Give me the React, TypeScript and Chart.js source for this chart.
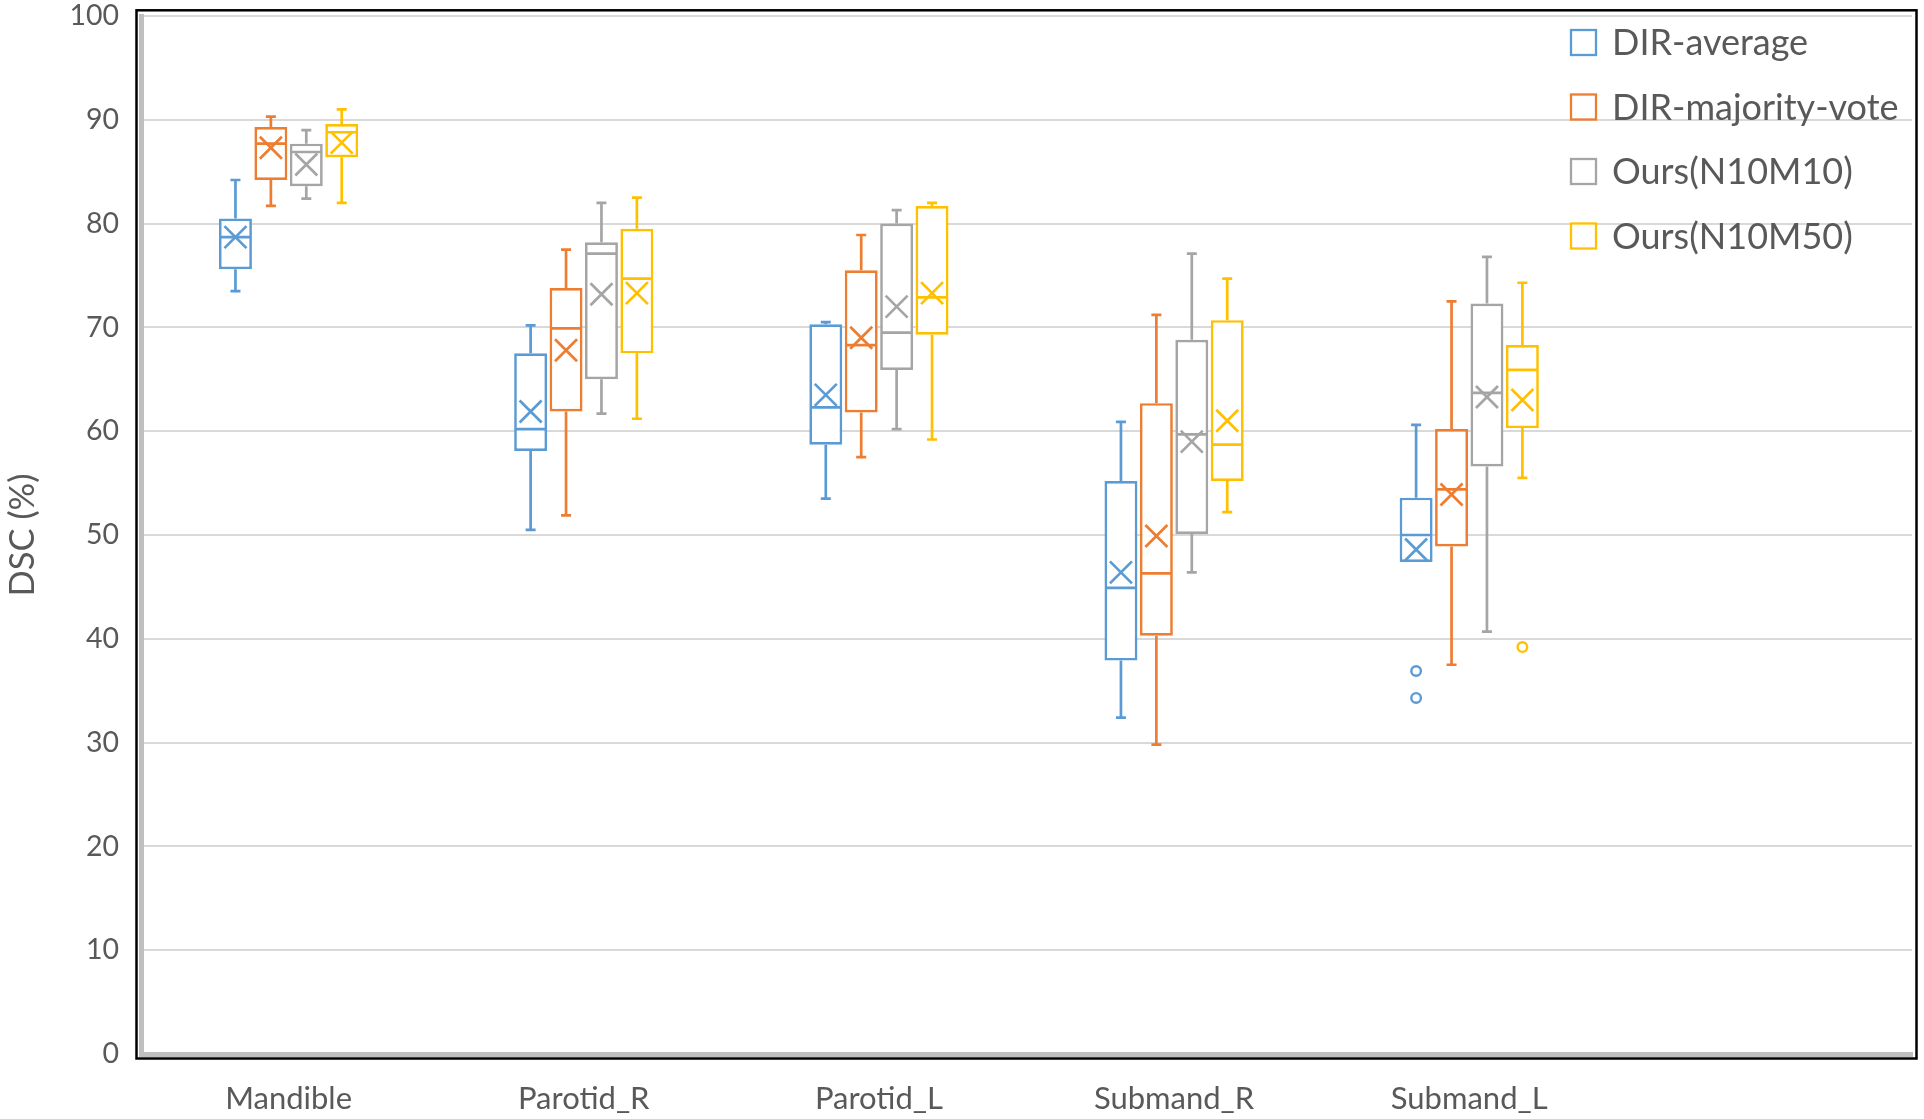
import React, { useEffect, useRef } from 'react';
import { Chart, registerables } from 'chart.js';

Chart.register(...registerables);

// ---------- data ----------
const categories = ['Mandible', 'Parotid_R', 'Parotid_L', 'Submand_R', 'Submand_L'];
const axisSlots = [...categories, '']; // empty trailing slot as in the original
const seriesNames = ['DIR-average', 'DIR-majority-vote', 'Ours(N10M10)', 'Ours(N10M50)'];
const seriesColors = ['#5B9BD5', '#ED7D31', '#A5A5A5', '#FFC000'];
const yMin = 0;
const yMax = 100;
const yStep = 10;
const yTitle = 'DSC (%)';

// DIR-average
const avgMin = [73.5, 50.5, 53.5, 32.4, 47.4];
const avgQ1 = [75.6, 58.1, 58.7, 37.9, 47.4];
const avgMedian = [78.7, 60.2, 62.3, 44.9, 50.0];
const avgQ3 = [80.5, 67.5, 70.3, 55.2, 53.6];
const avgMax = [84.2, 70.2, 70.5, 60.9, 60.6];
const avgMean = [78.7, 61.9, 63.5, 46.4, 48.6];
const avgOutliers = [[], [], [], [], [36.9, 34.3]];

// DIR-majority-vote
const mvMin = [81.7, 51.9, 57.5, 29.8, 37.5];
const mvQ1 = [84.2, 61.9, 61.8, 40.3, 48.9];
const mvMedian = [87.7, 69.9, 68.3, 46.3, 54.4];
const mvQ3 = [89.3, 73.8, 75.5, 62.7, 60.2];
const mvMax = [90.3, 77.5, 78.9, 71.2, 72.5];
const mvMean = [87.3, 67.8, 69.0, 49.9, 53.9];
const mvOutliers = [[], [], [], [], []];

// Ours(N10M10)
const m10Min = [82.4, 61.7, 60.2, 46.4, 40.7];
const m10Q1 = [83.6, 65.0, 65.9, 50.1, 56.6];
const m10Median = [86.9, 77.1, 69.5, 59.7, 63.7];
const m10Q3 = [87.7, 78.2, 80.0, 68.8, 72.3];
const m10Max = [89.0, 82.0, 81.3, 77.1, 76.8];
const m10Mean = [85.7, 73.2, 72.0, 59.0, 63.3];
const m10Outliers = [[], [], [], [], []];

// Ours(N10M50)
const m50Min = [82.0, 61.2, 59.2, 52.2, 55.5];
const m50Q1 = [86.4, 67.5, 69.3, 55.2, 60.3];
const m50Median = [88.8, 74.7, 72.9, 58.7, 65.9];
const m50Q3 = [89.6, 79.5, 81.7, 70.7, 68.3];
const m50Max = [91.0, 82.5, 82.0, 74.7, 74.3];
const m50Mean = [87.8, 73.3, 73.3, 61.0, 63.0];
const m50Outliers = [[], [], [], [], [39.2]];

const seriesStats = [
  { min: avgMin, q1: avgQ1, median: avgMedian, q3: avgQ3, max: avgMax, mean: avgMean, outliers: avgOutliers },
  { min: mvMin, q1: mvQ1, median: mvMedian, q3: mvQ3, max: mvMax, mean: mvMean, outliers: mvOutliers },
  { min: m10Min, q1: m10Q1, median: m10Median, q3: m10Q3, max: m10Max, mean: m10Mean, outliers: m10Outliers },
  { min: m50Min, q1: m50Q1, median: m50Median, q3: m50Q3, max: m50Max, mean: m50Mean, outliers: m50Outliers },
];

// ---------- styles ----------
const FONT = 'Lato, "Open Sans", sans-serif';
const TEXT = '#595959';
const LW = 2.7;

const boxExtras = {
  id: 'boxExtras',
  afterDatasetsDraw(chart: any) {
    const ctx = chart.ctx;
    const ys = chart.scales.y;
    ctx.save();
    chart.data.datasets.forEach((ds: any, di: number) => {
      const meta = chart.getDatasetMeta(di);
      const st = seriesStats[di];
      const color = seriesColors[di];
      ctx.strokeStyle = color;
      ctx.lineWidth = LW;
      ctx.lineCap = 'butt';
      meta.data.forEach((bar: any, i: number) => {
        if (i >= categories.length) return;
        const { x, width } = bar.getProps(['x', 'width'], true);
        const pMin = ys.getPixelForValue(st.min[i]);
        const pQ1 = ys.getPixelForValue(st.q1[i]);
        const pMed = ys.getPixelForValue(st.median[i]);
        const pQ3 = ys.getPixelForValue(st.q3[i]);
        const pMax = ys.getPixelForValue(st.max[i]);
        const pMean = ys.getPixelForValue(st.mean[i]);
        const cap = 5;
        ctx.beginPath();
        if (st.max[i] > st.q3[i]) {
          ctx.moveTo(x, pQ3);
          ctx.lineTo(x, pMax);
          ctx.moveTo(x - cap, pMax);
          ctx.lineTo(x + cap, pMax);
        }
        if (st.min[i] < st.q1[i]) {
          ctx.moveTo(x, pQ1);
          ctx.lineTo(x, pMin);
          ctx.moveTo(x - cap, pMin);
          ctx.lineTo(x + cap, pMin);
        }
        ctx.moveTo(x - width / 2 + 1, pMed);
        ctx.lineTo(x + width / 2 - 1, pMed);
        ctx.stroke();
        const h = 11;
        ctx.beginPath();
        ctx.moveTo(x - h, pMean - h);
        ctx.lineTo(x + h, pMean + h);
        ctx.moveTo(x + h, pMean - h);
        ctx.lineTo(x - h, pMean + h);
        ctx.stroke();
        st.outliers[i].forEach((v: number) => {
          const py = ys.getPixelForValue(v);
          ctx.beginPath();
          ctx.arc(x, py, 4.8, 0, Math.PI * 2);
          ctx.fillStyle = '#ffffff';
          ctx.fill();
          ctx.lineWidth = 2.4;
          ctx.stroke();
          ctx.lineWidth = LW;
        });
      });
    });
    ctx.restore();
  },
  afterDraw(chart: any) {
    const ctx = chart.ctx;
    const a = chart.chartArea;
    ctx.save();
    ctx.strokeStyle = '#000000';
    ctx.lineWidth = 2.5;
    ctx.strokeRect(a.left - 4.5, a.top - 5.7, a.right - a.left + 9, a.bottom - a.top + 10.2);
    ctx.font = `36px ${FONT}`;
    ctx.textBaseline = 'middle';
    ctx.textAlign = 'left';
    chart.data.datasets.forEach((ds: any, di: number) => {
      const cy = a.top + 26.5 + di * 64.5;
      const sx = a.right - 341;
      ctx.fillStyle = '#ffffff';
      ctx.fillRect(sx, cy - 12.5, 25, 25);
      ctx.strokeStyle = seriesColors[di];
      ctx.lineWidth = 2.3;
      ctx.strokeRect(sx, cy - 12.5, 25, 25);
      ctx.fillStyle = TEXT;
      ctx.fillText(ds.label, a.right - 300, cy + 1);
    });
    ctx.restore();
  },
};

export default function App() {
  const ref = useRef<HTMLCanvasElement | null>(null);

  useEffect(() => {
    if (!ref.current) return;
    const datasets = seriesNames.map((name, di) => ({
      label: name,
      data: axisSlots.map((_, i) =>
        i < categories.length ? [seriesStats[di].q1[i], seriesStats[di].q3[i]] : null
      ),
      backgroundColor: '#ffffff',
      borderColor: seriesColors[di],
      borderWidth: LW,
      borderSkipped: false,
      categoryPercentage: 0.48,
      barPercentage: 0.93,
    }));

    const chart = new Chart(ref.current, {
      type: 'bar',
      data: { labels: axisSlots, datasets: datasets as any },
      options: {
        responsive: false,
        animation: false,
        devicePixelRatio: 1,
        layout: { padding: { left: 0, right: 12, top: 16, bottom: 0 } },
        plugins: {
          legend: { display: false },
          tooltip: { enabled: false },
        },
        scales: {
          x: {
            type: 'category',
            offset: true,
            grid: { display: false, drawTicks: false },
            border: { display: true, color: '#BFBFBF', width: 5 },
            ticks: {
              color: TEXT,
              font: { family: FONT, size: 31 },
              padding: 26,
              maxRotation: 0,
              autoSkip: false,
            },
            afterFit: (s: any) => {
              s.height = 65;
              s.paddingLeft = 0;
              s.paddingRight = 0;
            },
          },
          y: {
            min: yMin,
            max: yMax,
            grid: { color: '#D9D9D9', lineWidth: 2, drawTicks: false },
            border: { display: true, color: '#BFBFBF', width: 5 },
            ticks: {
              stepSize: yStep,
              color: TEXT,
              font: { family: FONT, size: 28.5, lineHeight: 1 },
              padding: 22,
            },
            title: {
              display: true,
              text: yTitle,
              color: TEXT,
              font: { family: FONT, size: 34.5 },
              padding: { top: 2, bottom: 0 },
            },
            afterFit: (s: any) => {
              s.width = 141;
              s.paddingTop = 0;
              s.paddingBottom = 0;
            },
          },
        },
      },
      plugins: [boxExtras],
    });
    return () => chart.destroy();
  }, []);

  return (
    <div style={{ position: 'fixed', left: 0, top: 0, width: 1924, height: 1119, background: '#ffffff' }}>
      <canvas ref={ref} width={1924} height={1119} style={{ display: 'block', width: 1924, height: 1119 }} />
    </div>
  );
}
